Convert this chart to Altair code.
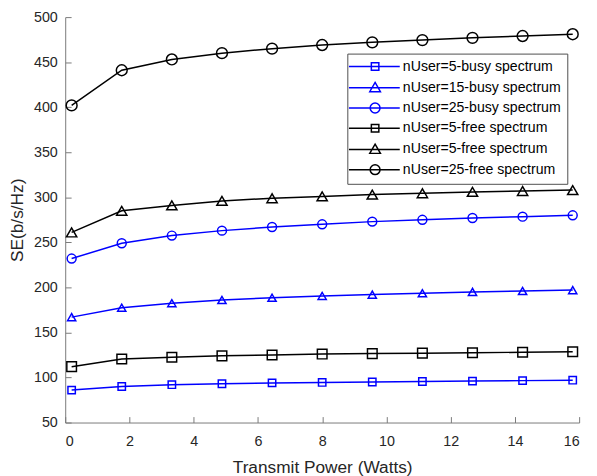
import altair as alt
import pandas as pd

# ---- data ----
power = [0.2, 1.76, 3.32, 4.88, 6.44, 8.0, 9.56, 11.12, 12.68, 14.24, 15.8]

busy_5 = [86, 90, 92, 93, 94, 94.5, 95, 95.5, 96, 96.5, 97]
busy_15 = [167, 177.5, 182.5, 186, 188.5, 190.5, 192, 193.5, 195, 196, 197]
busy_25 = [232, 249, 257.5, 263, 267, 270, 273, 275, 277, 278.5, 280]
free_5 = [112, 120.5, 122.5, 124, 125, 126, 126.5, 127, 127.5, 128, 128.5]
free_5b = [261, 285, 291, 296, 299, 301, 303, 304.5, 306, 307, 308]
free_25 = [402, 441, 453, 460, 465, 469, 472, 474.5, 477, 479, 481]

series_keys = ["s1", "s2", "s3", "s4", "s5", "s6"]
marker_keys = ["t1", "t2", "t3", "t4", "t5", "t6"]
series_labels = [
    "nUser=5-busy spectrum",
    "nUser=15-busy spectrum",
    "nUser=25-busy spectrum",
    "nUser=5-free spectrum",
    "nUser=5-free spectrum",
    "nUser=25-free spectrum",
]
series_values = [busy_5, busy_15, busy_25, free_5, free_5b, free_25]
series_colors = ["#0000FF", "#0000FF", "#0000FF", "#000000", "#000000", "#000000"]

x_ticks = list(range(0, 17, 2))
y_ticks = list(range(50, 501, 50))

rows = []
for key, mkey, vals in zip(series_keys, marker_keys, series_values):
    for xv, yv in zip(power, vals):
        rows.append({"x": xv, "y": yv, "series": key, "series2": mkey})
df = pd.DataFrame(rows)

# ---- scales ----
all_keys = series_keys + marker_keys
color_scale = alt.Scale(domain=all_keys, range=series_colors + series_colors)

L = "M-2.875,0H10"
legend_paths = [
    L + "M2.8,-0.95H4.7V0.95H2.8Z",
    L + "M3.75,-1.35L5.1,1H2.4Z",
    L + "M5,0A1.25,1.25,0,1,1,2.5,0A1.25,1.25,0,1,1,5,0Z",
]
plot_shapes = ["square", "triangle-up", "circle"]
shape_scale = alt.Scale(domain=all_keys, range=legend_paths * 2 + plot_shapes * 2)
size_scale = alt.Scale(domain=marker_keys, range=[56, 121, 100, 56, 121, 100])

label_map = "{" + ",".join(
    f"'{k}':'{v}'" for k, v in zip(series_keys, series_labels)
) + "}"

legend = alt.Legend(
    title=None,
    orient="none",
    legendX=286,
    legendY=37,
    values=series_keys,
    labelExpr=label_map + "[datum.value]",
    labelFont="Liberation Sans",
    labelFontSize=14.3,
    labelColor="#000000",
    labelOffset=36,
    labelLimit=400,
    symbolSize=64,
    symbolStrokeWidth=1.5,
    symbolOpacity=1,
    symbolFillColor="transparent",
    rowPadding=4.5,
    padding=6,
    strokeColor="#4d4d4d",
    fillColor="#ffffff",
)

x_scale = alt.Scale(domain=[0, 16], nice=False, zero=False)
y_scale = alt.Scale(domain=[50, 500], nice=False, zero=False)

# main axes: line + labels + titles, no ticks
x_main = alt.X(
    "x:Q",
    scale=x_scale,
    axis=alt.Axis(
        orient="bottom",
        title="Transmit Power (Watts)",
        values=x_ticks,
        grid=False,
        ticks=False,
        labelPadding=12,
        titlePadding=11.5,
    ),
)
y_main = alt.Y(
    "y:Q",
    scale=y_scale,
    axis=alt.Axis(
        orient="left",
        title="SE(b/s/Hz)",
        values=y_ticks,
        grid=False,
        ticks=False,
        labelPadding=8,
        titlePadding=7,
    ),
)
# secondary axes: inward ticks only
x_ticks_enc = alt.X(
    "x:Q",
    scale=x_scale,
    axis=alt.Axis(
        orient="bottom",
        title=None,
        values=x_ticks,
        grid=False,
        domain=False,
        labels=False,
        tickSize=6,
        offset=-6,
    ),
)
y_ticks_enc = alt.Y(
    "y:Q",
    scale=y_scale,
    axis=alt.Axis(
        orient="left",
        title=None,
        values=y_ticks,
        grid=False,
        domain=False,
        labels=False,
        tickSize=6,
        offset=-6,
    ),
)

base = alt.Chart(df)

lines = base.mark_line(strokeWidth=1.5).encode(
    x=x_main,
    y=y_main,
    color=alt.Color("series:N", scale=color_scale, legend=legend),
    detail="series:N",
)

points = base.mark_point(filled=False, strokeWidth=1.5, opacity=1).encode(
    x=alt.X("x:Q", scale=x_scale, axis=None),
    y=alt.Y("y:Q", scale=y_scale, axis=None),
    color=alt.Color("series2:N", scale=color_scale, legend=legend),
    shape=alt.Shape("series2:N", scale=shape_scale, legend=legend),
    size=alt.Size("series2:N", scale=size_scale, legend=None),
)

legend_layer = base.mark_point(filled=False, strokeWidth=1.5, size=64, opacity=0).encode(
    x=x_ticks_enc,
    y=y_ticks_enc,
    color=alt.Color("series:N", scale=color_scale, legend=legend),
    shape=alt.Shape("series:N", scale=shape_scale, legend=legend),
)

chart = (
    alt.layer(lines, points, legend_layer)
    .resolve_axis(x="independent", y="independent")
    .properties(
        width=521,
        height=411,
        background="#ffffff",
        autosize=alt.AutoSizeParams(type="none"),
        padding={"left": 58, "top": 6, "right": 10, "bottom": 53},
    )
    .configure_view(stroke=None)
    .configure_axis(
        labelFont="Liberation Sans",
        titleFont="Liberation Sans",
        labelFontSize=14.5,
        titleFontSize=17.5,
        titleFontWeight="normal",
        labelColor="#262626",
        titleColor="#262626",
        domainColor="#7a7a7a",
        tickColor="#7a7a7a",
        domainWidth=1,
        tickWidth=1,
    )
)

chart.save("out.html", embed_options={"renderer": "svg", "actions": False})
